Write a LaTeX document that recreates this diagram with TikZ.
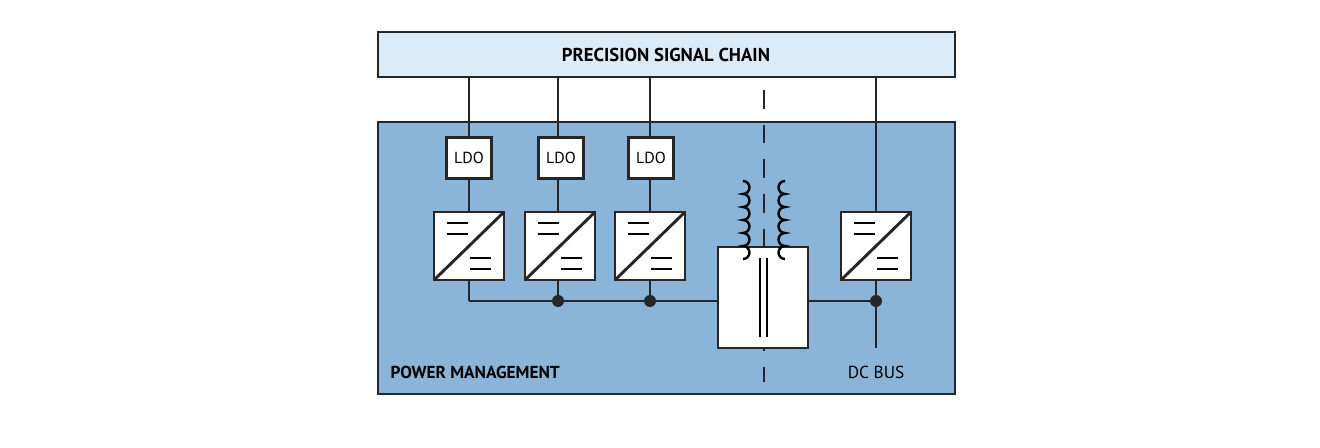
\documentclass[tikz,border=0pt]{standalone}
\usepackage{fontspec}
\setmainfont{PT Sans}
\begin{document}
\begin{tikzpicture}[x=0.75pt,y=-0.75pt,
  ln/.style={line width=2.2pt,draw=black!85},
  box/.style={ln,fill=white},
  dot/.style={circle,fill=black!85,inner sep=0pt,minimum size=9pt}]
\useasboundingbox (0,0) rectangle (1320,448);
\definecolor{light}{HTML}{DCEBF8}
\definecolor{pm}{HTML}{8AB4D8}
% boxes
\draw[ln,fill=light] (378,32) rectangle (955,77);
\node (psc) at (666,55) {\fontsize{14}{14}\selectfont\bfseries PRECISION SIGNAL CHAIN};
\draw[ln,fill=pm] (378,122) rectangle (955,394);
\node[anchor=west] (pmt) at (386,372) {\fontsize{13}{13}\selectfont\bfseries POWER MANAGEMENT};
\node (dcb) at (876,372) {\fontsize{13}{13}\selectfont DC BUS};
% dashed isolation
\draw[ln,dash pattern=on 14pt off 12pt] (764,90) -- (764,382);
% verticals
\foreach \x in {469,558,650,876} \draw[ln] (\x,77) -- (\x,301);
\draw[ln] (876,301) -- (876,348);
% bus
\draw[ln] (469,301) -- (718,301);
\draw[ln] (808,301) -- (876,301);
% LDOs
\foreach \x/\n in {469/a,561/b,651/c}
  \node[box,minimum width=34pt,minimum height=31pt,inner sep=0pt] (ldo\n) at (\x,158) {\fontsize{12}{12}\selectfont LDO};
% converters
\foreach \x/\n in {469/a,560/b,650/c,876/d}{
  \draw[box] (\x-35,212) rectangle (\x+35,280);
  \draw[ln] (\x-35,280) -- (\x+35,212);
  \draw[line width=1.8pt] (\x-22,223) -- (\x-1,223) (\x-22,234) -- (\x-1,234)
    (\x+1,258) -- (\x+22,258) (\x+1,269) -- (\x+22,269);
}
% transformer
\draw[box] (718,247) rectangle (808,348);
\draw[line width=1.8pt] (760,258) -- (760,337) (767,258) -- (767,337);
\draw[line width=1.8pt] (743,259) arc(90:-90:6.5) arc(90:-90:6.5) arc(90:-90:6.5) arc(90:-90:6.5) arc(90:-90:6.5) arc(90:-90:6.5);
\draw[line width=1.8pt] (785,259) arc(90:270:6.5) arc(90:270:6.5) arc(90:270:6.5) arc(90:270:6.5) arc(90:270:6.5) arc(90:270:6.5);
\node[dot] (d1) at (558,301) {};
\node[dot] (d2) at (650,301) {};
\node[dot] (d3) at (876,301) {};
\end{tikzpicture}
\end{document}
